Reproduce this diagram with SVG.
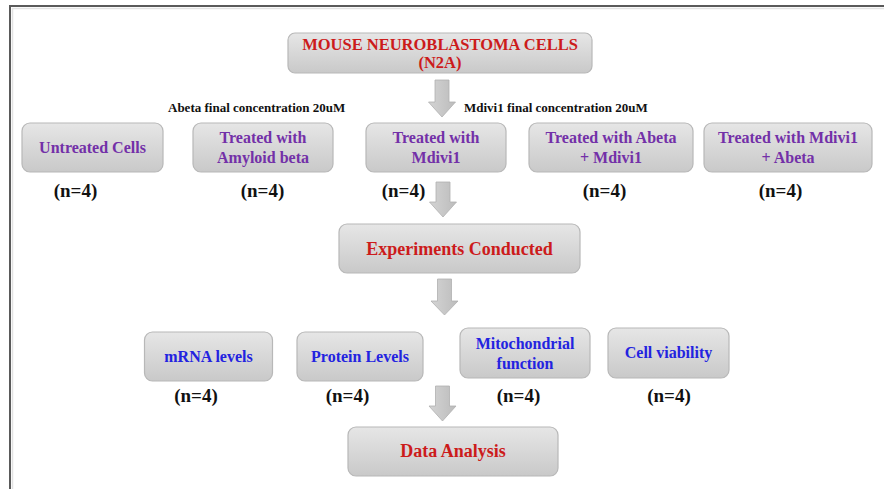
<svg xmlns="http://www.w3.org/2000/svg" width="884" height="489" viewBox="0 0 884 489">
<defs>
<linearGradient id="boxg" x1="0" y1="0" x2="0" y2="1">
<stop offset="0" stop-color="#e6e6e6"/>
<stop offset="1" stop-color="#c9c9c9"/>
</linearGradient>
<linearGradient id="arrg" x1="0" y1="0" x2="1" y2="0">
<stop offset="0" stop-color="#d4d4d4"/>
<stop offset="1" stop-color="#bcbcbc"/>
</linearGradient>
</defs>
<style>
.box{fill:url(#boxg);stroke:#b8b8b8;stroke-width:1.2}
.arr{fill:url(#arrg);stroke:#b0b0b0;stroke-width:0.8}
text{font-family:"Liberation Serif","Times New Roman",serif;font-weight:bold;text-anchor:middle}
.red{fill:#cc1b1b}
.pur{fill:#7330a8}
.blu{fill:#2323e0}
.n{fill:#111;font-size:19px}
.lbl{fill:#111;font-size:13px;text-anchor:start}
.t16{font-size:16px}
.t18{font-size:18px}
</style>
<rect width="884" height="489" fill="#fff"/>
<path d="M10,489 V6 H884" fill="none" stroke="#5a5a5a" stroke-width="2"/>
<path d="M12.5,489 V8.5 H884" fill="none" stroke="#e2e2e2" stroke-width="1.5"/>

<g id="connectors">
<polygon class="arr" points="435,80 449,80 449,102 455.5,102 442,117 428.5,102 435,102"/>
<polygon class="arr" points="436,182 450,182 450,202 456.5,202 443,217 429.5,202 436,202"/>
<polygon class="arr" points="437.5,279 451.5,279 451.5,301 458,301 444.5,315 431,301 437.5,301"/>
<polygon class="arr" points="435.5,386 449.5,386 449.5,406 456,406 442.5,421 429,406 435.5,406"/>
</g>

<g id="n2a">
<rect class="box" x="288" y="33" width="304" height="40" rx="7"/>
<text class="red" x="440" y="50" font-size="16.5">MOUSE NEUROBLASTOMA CELLS</text>
<text class="red" x="440" y="68" font-size="16.5">(N2A)</text>
</g>

<g id="label-abeta"><text class="lbl" x="168" y="112">Abeta final concentration 20uM</text></g>
<g id="label-mdivi"><text class="lbl" x="464" y="112">Mdivi1 final concentration 20uM</text></g>

<g id="untreated">
<rect class="box" x="22" y="123" width="141" height="49" rx="8"/>
<text class="pur t16" x="92.5" y="153">Untreated Cells</text>
<text class="n" x="75.5" y="197">(n=4)</text>
</g>
<g id="amyloid">
<rect class="box" x="193" y="123" width="140" height="49" rx="8"/>
<text class="pur t16" x="263" y="143">Treated with</text>
<text class="pur t16" x="263" y="163">Amyloid beta</text>
<text class="n" x="262.5" y="197">(n=4)</text>
</g>
<g id="mdivi1">
<rect class="box" x="366" y="123" width="140" height="49" rx="8"/>
<text class="pur t16" x="436" y="143">Treated with</text>
<text class="pur t16" x="436" y="163">Mdivi1</text>
<text class="n" x="403.5" y="197">(n=4)</text>
</g>
<g id="abeta-mdivi1">
<rect class="box" x="529" y="123" width="164" height="49" rx="8"/>
<text class="pur t16" x="611" y="143">Treated with Abeta</text>
<text class="pur t16" x="611" y="163">+ Mdivi1</text>
<text class="n" x="604.5" y="197">(n=4)</text>
</g>
<g id="mdivi1-abeta">
<rect class="box" x="704" y="123" width="168" height="49" rx="8"/>
<text class="pur t16" x="788" y="143">Treated with Mdivi1</text>
<text class="pur t16" x="788" y="163">+ Abeta</text>
<text class="n" x="780.5" y="197">(n=4)</text>
</g>

<g id="experiments">
<rect class="box" x="339" y="224" width="241" height="49" rx="8"/>
<text class="red t18" x="459.5" y="255">Experiments Conducted</text>
</g>

<g id="mrna">
<rect class="box" x="144.5" y="332" width="128" height="49" rx="8"/>
<text class="blu t16" x="208.5" y="362">mRNA levels</text>
<text class="n" x="196" y="402">(n=4)</text>
</g>
<g id="protein">
<rect class="box" x="297" y="332" width="126" height="49" rx="8"/>
<text class="blu t16" x="360" y="362">Protein Levels</text>
<text class="n" x="347.5" y="402">(n=4)</text>
</g>
<g id="mito">
<rect class="box" x="460" y="328" width="130" height="50" rx="8"/>
<text class="blu t16" x="525" y="349">Mitochondrial</text>
<text class="blu t16" x="525" y="369">function</text>
<text class="n" x="518.5" y="402">(n=4)</text>
</g>
<g id="viability">
<rect class="box" x="608" y="328" width="121" height="50" rx="8"/>
<text class="blu t16" x="668.5" y="358">Cell viability</text>
<text class="n" x="669" y="402">(n=4)</text>
</g>

<g id="data-analysis">
<rect class="box" x="348" y="427" width="210" height="49" rx="8"/>
<text class="red t18" x="453" y="457">Data Analysis</text>
</g>
</svg>
